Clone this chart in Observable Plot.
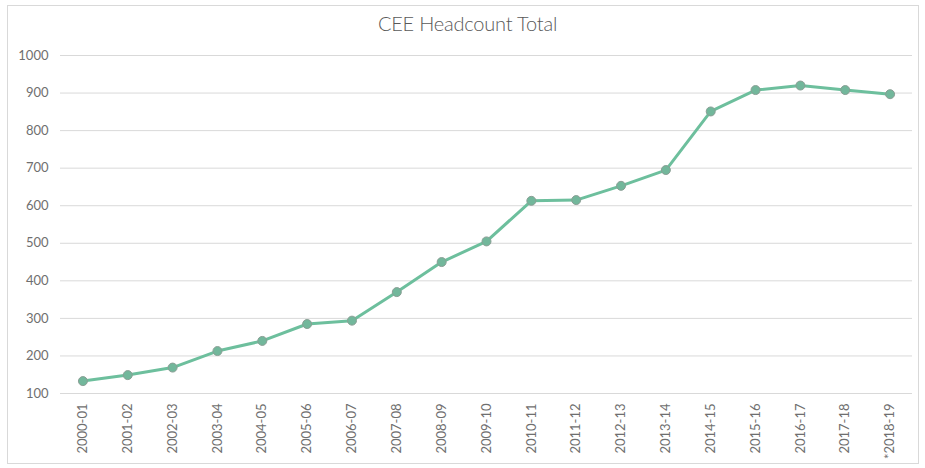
<!DOCTYPE html>
<html>
<head>
<meta charset="utf-8">
<script src="https://cdn.jsdelivr.net/npm/d3@7"></script>
<script src="https://cdn.jsdelivr.net/npm/@observablehq/plot@0.6"></script>
<style>
  body { margin: 0; background: #fff; font-family: Lato, "Liberation Sans", sans-serif; }
  #wrap { position: relative; width: 925px; height: 468px; overflow: hidden; }
  #frame { position: absolute; left: 7px; top: 5px; width: 912px; height: 459px; border: 1px solid #d9d9d9; box-sizing: border-box; }
  #title { position: absolute; top: 11px; left: 0; width: 935px; text-align: center; font-size: 20px; font-weight: 300; color: #595959; font-family: Lato, "Liberation Sans", sans-serif; letter-spacing: -0.2px; }
  #chart { position: absolute; left: 0; top: 0; }
</style>
</head>
<body>
<div id="wrap">
  <div id="frame"></div>
  <div id="title">CEE Headcount Total</div>
  <div id="chart"></div>
</div>
<script>
const years = ["2000-01","2001-02","2002-03","2003-04","2004-05","2005-06","2006-07","2007-08","2008-09","2009-10","2010-11","2011-12","2012-13","2013-14","2014-15","2015-16","2016-17","2017-18","*2018-19"];
const headcount = [133,149,169,213,240,285,294,370,450,505,613,615,653,695,851,908,920,908,897];
const yTicks = [100,200,300,400,500,600,700,800,900,1000];

const data = years.map((y, i) => ({year: y, value: headcount[i]}));

const plot = Plot.plot({
  width: 925,
  height: 468,
  marginTop: 55,
  marginBottom: 75,
  marginLeft: 60,
  marginRight: 13,
  style: { fontFamily: "Lato, 'Liberation Sans', sans-serif", fontSize: "13px", color: "#6f6f6f", background: "transparent" },
  x: { type: "band", domain: years, padding: 0, round: false, label: null },
  y: { domain: [100, 1000], label: null },
  marks: [
    Plot.gridY(yTicks, { stroke: "#d9d9d9", strokeOpacity: 1, strokeWidth: 1 }),
    Plot.axisY({ ticks: yTicks, tickFormat: d3.format("d"), tickSize: 0, tickPadding: 12, label: null, fill: "#6f6f6f" }),
    Plot.axisX({ tickSize: 0, tickPadding: 10, tickRotate: -90, label: null, fill: "#6f6f6f" }),
    Plot.lineY(data, { x: "year", y: "value", stroke: "#6dbf9d", strokeWidth: 3 }),
    Plot.dot(data, { x: "year", y: "value", r: 4.5, fill: "#72b79b", stroke: "#8a9f95", strokeWidth: 1 })
  ]
});
document.getElementById("chart").appendChild(plot);
</script>
</body>
</html>
